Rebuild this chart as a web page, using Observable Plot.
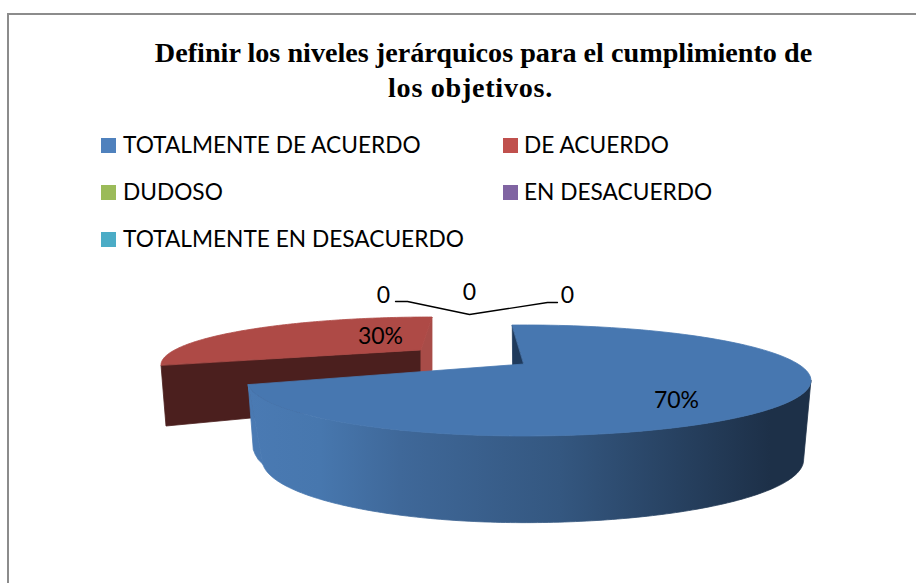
<!DOCTYPE html>
<html><head><meta charset="utf-8">
<script src="https://cdn.jsdelivr.net/npm/d3@7"></script>
<script src="https://cdn.jsdelivr.net/npm/@observablehq/plot@0.6"></script>
<style>
html,body{margin:0;padding:0;background:#fff;overflow:hidden;width:916px;height:583px}
#frame{position:absolute;left:7px;top:13px;width:1000px;height:640px;border:2px solid #8c8c8c;box-sizing:border-box}
.title{position:absolute;left:0;text-align:center;font:bold 28.2px/35px "Liberation Serif",serif;color:#000;white-space:nowrap}
.lg{position:absolute;font:22.7px/30px Lato,sans-serif;color:#000;white-space:nowrap}
.sw{position:absolute;width:15px;height:15px}
#chart{position:absolute;left:0;top:270px}
</style></head><body>
<div id="frame"></div>
<div class="title" style="top:34.5px;width:967px">Definir los niveles jerárquicos para el cumplimiento de</div>
<div class="title" style="top:69.5px;width:941px;letter-spacing:.7px">los objetivos.</div>
<div id="legend"></div>
<div id="chart"></div>
<script>
const categories = ["TOTALMENTE DE ACUERDO","DE ACUERDO","DUDOSO","EN DESACUERDO","TOTALMENTE EN DESACUERDO"];
const shares = [70,30,0,0,0];
const swatches = ["#4f81bd","#c0504d","#9bbb59","#8064a2","#4bacc6"];
const legendColumns = [101,503];
const legendRows = [145.5,192.5,239.5];

const total = d3.sum(shares);
const startAngle = -3.3;
const blueEnd=startAngle+shares[0]/total*360;
const redEnd=blueEnd+shares[1]/total*360;

const blue = {cx:524,topY:94,botY:171,a:274,aL:264,a2:267,a2L:250,b:50.6,b2:57.4,p:0.297,
  ax:524,ay:94,ayb:171,pivot:0,warp:1};
const red  = {cx:432,topY:95,botY:156,a:271,aL:271,a2:266,a2L:266,b:48,b2:56,p:0,
  ax:421,ay:80,ayb:132,pivot:redEnd,warp:90/(redEnd-blueEnd)};

function pt(s,deg,level){
  const d=(deg-s.pivot)*s.warp;
  const t=d*Math.PI/180,X=Math.sin(t),Y=Math.cos(t),w=1+s.p*Y;
  const a=level?(X<0?s.a2L:s.a2):(X<0?s.aL:s.a),b=level?s.b2:s.b,c=level?s.botY:s.topY;
  return {x:s.cx+a*X/w,y:c-b*Y/w};
}
function sweep(from,to,n){return d3.range(n+1).map(i=>from+(to-from)*i/n);}

const fan=(s,from,to,part,fill)=>sweep(from,to,120).map(d=>{
  const o=pt(s,d,0);
  return {x1:s.ax,y1:s.ay,x2:o.x,y2:o.y,part,fill};
});
const shadeStops=[[248,"#4a7ab3"],[320,"#4777ae"],[400,"#3f6899"],[560,"#345780"],[770,"#1d3048"],[811,"#1d3048"]];
const rimAngle=90+Math.asin(blue.p)*180/Math.PI;
const blueSide=sweep(rimAngle,blueEnd,170).map(d=>{
  const o=pt(blue,d,0),i=pt(blue,d,1);
  return {x1:i.x,y1:i.y,x2:o.x,y2:o.y};
});
const face=(s,d,part,fill)=>[
  {x1:s.ax,y1:s.ayb,x2:s.ax,y2:s.ay,part,fill},
  {x1:pt(s,d,1).x,y1:pt(s,d,1).y,x2:pt(s,d,0).x,y2:pt(s,d,0).y,part,fill}];
// rounded lower corner at the end of the blue slice
const endTop=pt(blue,blueEnd,0),endBot=pt(blue,blueEnd,1);
const cornerSteps=[[10,75],[7,70],[5,65]];
const bevel=[[endBot.x-endTop.x,endBot.y-endTop.y],...cornerSteps].map(([dx,dy])=>(
  {x1:endTop.x,y1:endTop.y,x2:endTop.x+dx,y2:endTop.y+dy,part:"bevel",fill:"#4a7ab3"}));

const behind=[
  ...face(red,blueEnd,"redLeft","#4b1f1e"),
  ...face(red,redEnd,"redRight","#a84c48"),
  ...fan(red,blueEnd,redEnd,"redTop","#ae4a46"),
  ...face(blue,startAngle,"blueInner","#1f3a5c"),
  ...bevel
];
const blueTop=fan(blue,startAngle,blueEnd,"blueTop","#4777b0");

const leader=[{x:395,y:31},{x:407,y:31},{x:469,y:44},{x:547,y:32},{x:557,y:32}];
const zeroLabels=[{x:383,y:25,t:shares[2]},{x:469,y:22,t:shares[3]},{x:567,y:25,t:shares[4]}];
const pctLabels=[{x:676,y:130,t:shares[0]+"%"},{x:380,y:66,t:shares[1]+"%"}];

const lg=document.getElementById("legend");
categories.forEach((c,i)=>{
  const col=legendColumns[i%2],row=legendRows[Math.floor(i/2)];
  const s=document.createElement("div");s.className="sw";s.style.cssText=`left:${col}px;top:${row-7.5}px;background:${swatches[i]}`;
  const t=document.createElement("div");t.className="lg";t.textContent=c;t.style.cssText=`left:${col+(i%2?21:22)}px;top:${row-16}px`;
  lg.append(s,t);
});

function gradientDefs(){
  const defs=d3.create("svg:defs");
  const g=defs.append("linearGradient").attr("id","sideShade").attr("gradientUnits","userSpaceOnUse")
    .attr("x1",shadeStops[0][0]).attr("x2",shadeStops[shadeStops.length-1][0]).attr("y1",0).attr("y2",0);
  const x0=shadeStops[0][0],x1=shadeStops[shadeStops.length-1][0];
  shadeStops.forEach(([x,c])=>g.append("stop").attr("offset",(x-x0)/(x1-x0)).attr("stop-color",c));
  return defs.node();
}

const W=916,H=313;
const areaOpts={x1:"x1",y1:"y1",x2:"x2",y2:"y2",curve:"linear"};
document.getElementById("chart").append(Plot.plot({
  width:W,height:H,margin:0,
  style:{background:"transparent",overflow:"visible"},
  x:{domain:[0,W],range:[0,W],axis:null},
  y:{domain:[0,H],range:[0,H],axis:null},
  marks:[
    gradientDefs,
    Plot.area(behind,{...areaOpts,z:"part",fill:d=>d.fill,stroke:d=>d.fill,strokeWidth:0.8}),
    Plot.area(blueSide,{...areaOpts,fill:"url(#sideShade)",stroke:"url(#sideShade)",strokeWidth:0.8}),
    Plot.area(blueTop,{...areaOpts,fill:"#4777b0",stroke:"#4777b0",strokeWidth:0.8}),
    Plot.line(leader,{x:"x",y:"y",stroke:"#000",strokeWidth:1.3,curve:"linear"}),
    Plot.text(zeroLabels,{x:"x",y:"y",text:d=>String(d.t),fontSize:23,fontFamily:"Lato",fill:"#000"}),
    Plot.text(pctLabels,{x:"x",y:"y",text:"t",fontSize:23,fontFamily:"Lato",fill:"#000"})
  ]
}));
</script>
</body></html>
